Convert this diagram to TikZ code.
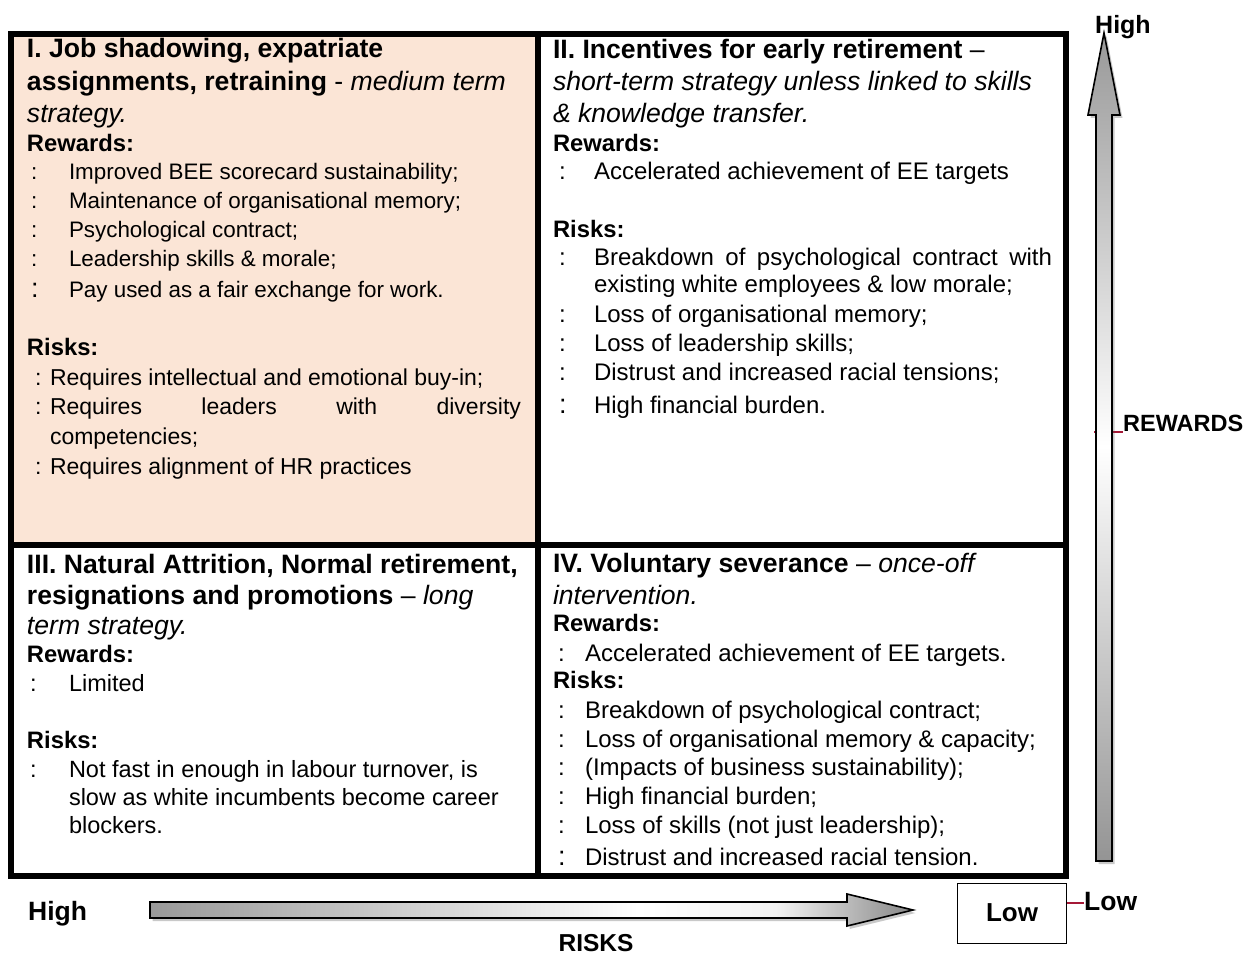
\documentclass[tikz,border=0pt]{standalone}
\usepackage{fontspec}
\setmainfont{Liberation Sans}
\usetikzlibrary{shadows}
\definecolor{peach}{RGB}{251,229,214}
\definecolor{tickred}{RGB}{165,25,55}
\pgfdeclarehorizontalshading{hshade}{100bp}{color(0bp)=(black!40); color(25bp)=(black!40); color(57bp)=(white); color(66bp)=(white!95!black); color(75bp)=(black!47); color(100bp)=(black!47)}
\pgfdeclareverticalshading{vshade}{100bp}{color(0bp)=(black!42); color(25bp)=(black!42); color(50bp)=(white); color(75bp)=(black!40); color(100bp)=(black!40)}
\newcommand\qitem[6]{\node[#1] (#2c) at (#3,#5) {:}; \node[#1] (#2) at (#4,#5) {#6};}
\tikzset{
  gridline/.style={line width=5.5pt},
  arrowbody/.style={draw=black, line width=1.6pt, line join=miter,
    drop shadow={shadow xshift=2.5pt, shadow yshift=-3pt, opacity=0.3, fill=black!70}},
  txt/.style={anchor=base west, inner sep=0pt, outer sep=0pt},
  ttl/.style={txt, font=\fontsize{26.6}{32}\selectfont},
  hd/.style={txt, font=\fontsize{23.8}{28}\selectfont\bfseries},
  bI/.style={txt, font=\fontsize{22.4}{28}\selectfont},
  bIr/.style={txt, font=\fontsize{23}{28}\selectfont},
  bII/.style={txt, font=\fontsize{24}{28}\selectfont},
  bIII/.style={txt, font=\fontsize{23.5}{28}\selectfont},
  bigc/.style={txt, font=\fontsize{27}{30}\selectfont},
  axlbl/.style={inner sep=0pt, font=\fontsize{26.5}{30}\selectfont\bfseries},
  tick/.style={draw=tickred, line width=1.6pt},
}
\begin{document}
\begin{tikzpicture}[x=1pt,y=-1pt]
\useasboundingbox (0,0) rectangle (1252,955);
% quadrant I fill
\fill[peach] (11,34) rectangle (538,545);
% grid
\draw[gridline] (11,34) rectangle (1066,876);
\draw[gridline] (538,34) -- (538,876);
\draw[gridline] (11,545) -- (1066,545);

% ---------- Quadrant I
\node[ttl] (q1t1) at (27,58) {\textbf{I. Job shadowing, expatriate}};
\node[ttl] (q1t2) at (27,91) {\textbf{assignments, retraining} - \textit{medium term}};
\node[ttl] (q1t3) at (27,122) {\textit{strategy.}};
\node[hd] (q1rw) at (27,151) {Rewards:};
\qitem{bI}{q1a}{31}{69}{179}{Improved BEE scorecard sustainability;}
\qitem{bI}{q1b}{31}{69}{208}{Maintenance of organisational memory;}
\qitem{bI}{q1c}{31}{69}{237}{Psychological contract;}
\qitem{bI}{q1d}{31}{69}{266}{Leadership skills \& morale;}
\node[bigc] (q1ec) at (31,297) {:};
\node[bI] (q1e) at (69,297) {Pay used as a fair exchange for work.};
\node[hd] (q1rk) at (27,355) {Risks:};
\qitem{bIr}{q1f}{35}{50}{385}{Requires intellectual and emotional buy-in;}
\qitem{bIr}{q1g}{35}{50}{414}{\makebox[471pt][s]{Requires leaders with diversity}}
\node[bIr] (q1h) at (50,444) {competencies;};
\qitem{bIr}{q1i}{35}{50}{474}{Requires alignment of HR practices}

% ---------- Quadrant II
\node[ttl] (q2t1) at (553,59) {\textbf{II. Incentives for early retirement} –};
\node[ttl] (q2t2) at (553,91) {\textit{short-term strategy unless linked to skills}};
\node[ttl] (q2t3) at (553,122) {\textit{\& knowledge transfer.}};
\node[hd] (q2rw) at (553,151) {Rewards:};
\qitem{bII}{q2a}{559}{594}{179}{Accelerated achievement of EE targets}
\node[hd] (q2rk) at (553,237) {Risks:};
\qitem{bII}{q2b}{559}{594}{265}{\makebox[458pt][s]{Breakdown of psychological contract with}}
\node[bII] (q2b2) at (594,292) {existing white employees \& low morale;};
\qitem{bII}{q2c}{559}{594}{322}{Loss of organisational memory;}
\qitem{bII}{q2d}{559}{594}{351}{Loss of leadership skills;}
\qitem{bII}{q2e}{559}{594}{380}{Distrust and increased racial tensions;}
\node[bigc] (q2fc) at (559,413) {:};
\node[bII] (q2f) at (594,413) {High financial burden.};

% ---------- Quadrant III
\node[ttl] (q3t1) at (27,573) {\textbf{III. Natural Attrition, Normal retirement,}};
\node[ttl] (q3t2) at (27,604) {\textbf{resignations and promotions} – \textit{long}};
\node[ttl] (q3t3) at (27,634) {\textit{term strategy.}};
\node[hd] (q3rw) at (27,662) {Rewards:};
\qitem{bIII}{q3a}{30}{69}{691}{Limited}
\node[hd] (q3rk) at (27,748) {Risks:};
\qitem{bIII}{q3b}{30}{69}{777}{Not fast in enough in labour turnover, is}
\node[bIII] (q3b2) at (69,805) {slow as white incumbents become career};
\node[bIII] (q3b3) at (69,833) {blockers.};

% ---------- Quadrant IV
\node[ttl] (q4t1) at (553,572) {\textbf{IV. Voluntary severance} – \textit{once-off}};
\node[ttl] (q4t2) at (553,604) {\textit{intervention.}};
\node[hd] (q4rw) at (553,631) {Rewards:};
\qitem{bII}{q4a}{558}{585}{661}{Accelerated achievement of EE targets.}
\node[hd] (q4rk) at (553,688) {Risks:};
\qitem{bII}{q4b}{558}{585}{718}{Breakdown of psychological contract;}
\qitem{bII}{q4c}{558}{585}{747}{Loss of organisational memory \& capacity;}
\qitem{bII}{q4d}{558}{585}{775}{(Impacts of business sustainability);}
\qitem{bII}{q4e}{558}{585}{804}{High financial burden;}
\qitem{bII}{q4f}{558}{585}{833}{Loss of skills (not just leadership);}
\node[bigc] (q4gc) at (558,865) {:};
\node[bII] (q4g) at (585,865) {Distrust and increased racial tension.};

% ---------- vertical axis (REWARDS)
\node[axlbl, anchor=base west, font=\fontsize{23.5}{28}\selectfont\bfseries] (rewlbl) at (1123,431) {REWARDS};
\coordinate (rewtick) at (1094,432);
\draw[tick] (rewtick) -- (rewtick -| rewlbl.west);
\path[arrowbody, shade, shading=vshade]
  (1096,861) -- (1096,115) -- (1088,115) -- (1104,33) -- (1120,115) -- (1112,115) -- (1112,861) -- cycle;
\node[axlbl, anchor=base west, font=\fontsize{25}{30}\selectfont\bfseries] (hightop) at (1095,34) {High};

% ---------- horizontal axis (RISKS)
\path[arrowbody, shade, shading=hshade]
  (150,902) -- (847,902) -- (847,894) -- (913,910) -- (847,926) -- (847,918) -- (150,918) -- cycle;
\node[axlbl, anchor=base west] (highleft) at (28,920) {High};
\node[axlbl, anchor=base, font=\fontsize{24.5}{28}\selectfont\bfseries] (risks) at (596,951) {RISKS};

% ---------- Low box and label
\node[draw, line width=1pt, minimum width=109pt, minimum height=60pt, inner sep=0pt,
      font=\fontsize{26}{30}\selectfont\bfseries] (lowbox) at (1012,913) {Low};
\node[axlbl, anchor=west] (lowlbl) at (1084,902) {Low};
\coordinate (lowtick) at ([yshift=10pt]lowbox.east);
\draw[tick] (lowtick) -- (lowtick -| lowlbl.west);
\end{tikzpicture}
\end{document}
